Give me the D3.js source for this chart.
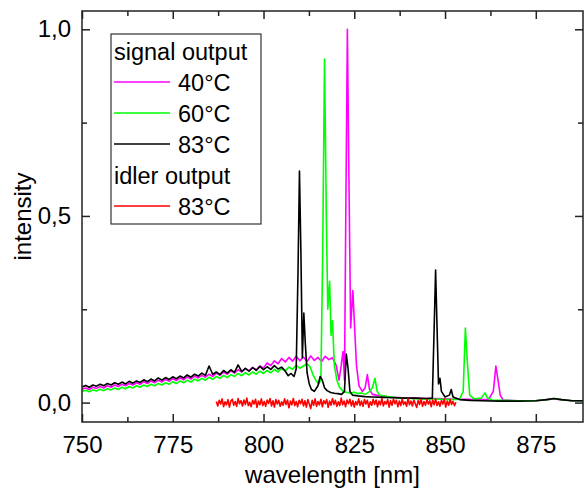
<!DOCTYPE html>
<html>
<head>
<meta charset="utf-8">
<script src="https://cdn.jsdelivr.net/npm/d3@7"></script>
<style>
  body { margin: 0; background: #fff; }
  text { font-family: "Liberation Sans", Arial, sans-serif; fill: #000; }
</style>
</head>
<body>
<div id="chart"></div>
<script>
// spectra, [wavelength nm, intensity]
var sig40 = [[750,.036],[751,.039],[752,.035],[753,.041],[754,.038],[755,.043],[756,.039],[757,.045],[758,.041],[759,.047],[760,.043],
  [761,.049],[762,.045],[763,.051],[764,.047],[765,.053],[766,.049],[767,.056],[768,.051],[769,.058],[770,.053],[771,.060],[772,.055],
  [773,.062],[774,.057],[775,.064],[776,.059],[777,.066],[778,.061],[779,.069],[780,.063],[781,.071],[782,.066],[783,.073],[784,.068],
  [785,.076],[786,.070],[787,.079],[788,.073],[789,.082],[790,.076],[791,.085],[792,.079],[793,.088],[794,.082],[795,.091],[796,.085],
  [797,.094],[798,.088],[799,.098],[800,.093],[801,.106],[802,.099],[803,.112],[804,.104],[805,.118],[806,.109],[807,.121],[808,.111],
  [809,.124],[810,.112],[811,.122],[812,.110],[813,.125],[814,.113],[815,.121],[816,.110],[817,.124],[818,.115],[819,.120],[820,.100],
  [820.8,.060],[821.4,.100],[821.9,.137],[822.3,.060],[822.7,.550],[823.1,1.0],[823.5,.620],[824,.200],[824.6,.300],[825.1,.200],
  [825.6,.100],[826.3,.045],[827.2,.030],[828,.040],[828.6,.075],[829.2,.035],[830,.022],[832,.018],[835,.015],[838,.013],[841,.012],
  [844,.011],[847,.011],[850,.010],[853,.009],[856,.009],[859,.008],[862,.009],[863.3,.030],[864,.098],[864.6,.060],[865.2,.020],
  [866,.007],[870,.005],[875,.005],[878,.008],[880,.010],[882,.008],[885,.005],[888,.005]];

var sig60 = [[750,.030],[751,.033],[752,.029],[753,.034],[754,.031],[755,.036],[756,.032],[757,.037],[758,.034],[759,.039],[760,.035],
  [761,.041],[762,.037],[763,.043],[764,.039],[765,.045],[766,.041],[767,.047],[768,.043],[769,.049],[770,.045],[771,.051],[772,.047],
  [773,.053],[774,.049],[775,.056],[776,.051],[777,.058],[778,.053],[779,.060],[780,.055],[781,.063],[782,.058],[783,.065],[784,.060],
  [785,.068],[786,.062],[787,.070],[788,.065],[789,.073],[790,.067],[791,.075],[792,.070],[793,.078],[794,.072],[795,.080],[796,.074],
  [797,.082],[798,.076],[799,.084],[800,.078],[801,.086],[802,.080],[803,.089],[804,.082],[805,.092],[806,.085],[807,.095],[808,.089],
  [809,.100],[810,.092],[811,.098],[812,.104],[812.8,.096],[813.6,.075],[814.4,.060],[815.2,.050],[815.8,.060],[816.3,.400],
  [816.8,.920],[817.3,.500],[817.7,.250],[818.2,.325],[818.6,.180],[819,.220],[819.5,.100],[820.2,.060],[821,.040],[822,.030],
  [823,.027],[824,.025],[825,.028],[826,.024],[827,.026],[828,.022],[829,.028],[830,.040],[830.7,.065],[831.3,.030],[832,.020],
  [834,.016],[837,.013],[840,.011],[843,.010],[846,.010],[849,.009],[852,.008],[854,.009],[855,.030],[855.6,.200],[856.2,.100],
  [856.8,.020],[858,.010],[860,.012],[861,.026],[861.7,.012],[863,.007],[866,.006],[870,.005],[875,.005],[878,.008],[880,.011],
  [882,.008],[885,.005],[888,.005]];

var sig83 = [[750,.042],[751,.046],[752,.041],[753,.047],[754,.044],[755,.049],[756,.045],[757,.051],[758,.047],[759,.053],[760,.049],
  [761,.055],[762,.050],[763,.057],[764,.052],[765,.058],[766,.054],[767,.061],[768,.056],[769,.063],[770,.058],[771,.066],[772,.060],
  [773,.067],[774,.062],[775,.069],[776,.064],[777,.071],[778,.066],[779,.074],[780,.068],[781,.076],[782,.071],[783,.079],[784,.073],
  [785,.098],[786,.076],[787,.082],[788,.075],[789,.086],[790,.079],[791,.088],[792,.081],[793,.101],[794,.083],[795,.092],[796,.084],
  [797,.094],[798,.086],[799,.097],[800,.088],[801,.096],[802,.089],[803,.099],[804,.090],[805,.095],[806,.084],[806.8,.072],
  [807.6,.078],[808.4,.070],[809,.090],[809.5,.350],[809.9,.620],[810.3,.400],[810.7,.120],[811.1,.240],[811.5,.160],[812,.080],
  [812.6,.050],[813.2,.035],[814,.030],[815,.045],[815.6,.070],[816.2,.060],[816.8,.040],[817.5,.032],[818.5,.027],[819.5,.025],
  [820.5,.024],[821.5,.022],[822.3,.030],[822.8,.130],[823.3,.090],[823.8,.030],[824.5,.020],[826,.018],[828,.016],[830,.015],
  [833,.014],[836,.013],[839,.012],[842,.012],[845,.011],[846.5,.012],[847,.200],[847.4,.355],[847.8,.200],[848.2,.050],
  [848.6,.065],[849,.030],[850,.015],[851.2,.020],[851.7,.035],[852.2,.015],[854,.008],[857,.006],[860,.005],[865,.004],
  [870,.004],[875,.005],[878,.008],[880,.011],[882,.008],[885,.005],[888,.005]];

var idler83 = [[787,.003],[787.4,-.009],[787.8,.006],[788.2,-.004],[788.6,.010],[789,-.011],[789.4,.002],[789.8,-.006],[790.2,.008],
  [790.6,-.012],[791,.004],[791.4,.009],[791.8,-.007],[792.2,.003],[792.6,-.010],[793,.011],[793.4,-.003],[793.8,.005],[794.2,-.009],
  [794.6,.007],[795,-.005],[795.4,.012],[795.8,-.008],[796.2,.001],[796.6,-.011],[797,.006],[797.4,-.004],[797.8,.009],[798.2,-.013],
  [798.6,.004],[799,-.006],[799.4,.010],[799.8,-.008],[800.2,.003],[800.6,-.010],[801,.007],[801.4,-.002],[801.8,.011],[802.2,-.009],
  [802.6,.005],[803,-.012],[803.4,.008],[803.8,-.004],[804.2,.006],[804.6,-.010],[805,.002],[805.4,-.007],[805.8,.010],[806.2,-.005],
  [806.6,.007],[807,-.014],[807.4,.004],[807.8,-.006],[808.2,.011],[808.6,-.008],[809,.003],[809.4,-.011],[809.8,.006],[810.2,-.003],
  [810.6,.009],[811,-.009],[811.4,.005],[811.8,-.012],[812.2,.008],[812.6,-.004],[813,-.016],[813.4,.006],[813.8,-.007],[814.2,.010],
  [814.6,-.010],[815,.003],[815.4,-.006],[815.8,.009],[816.2,-.011],[816.6,.005],[817,-.003],[817.4,.008],[817.8,-.013],[818.2,.004],
  [818.6,-.007],[819,.011],[819.4,-.005],[819.8,.006],[820.2,-.010],[820.6,.002],[821,-.008],[821.4,.012],[821.8,-.006],[822.2,.004],
  [822.6,-.011],[823,.007],[823.4,-.003],[823.8,.009],[824.2,-.009],[824.6,.005],[825,-.012],[825.4,.003],[825.8,-.006],[826.2,.010],
  [826.6,-.008],[827,.004],[827.4,-.010],[827.8,.008],[828.2,-.004],[828.6,.006],[829,-.013],[829.4,.002],[829.8,-.007],[830.2,.009],
  [830.6,-.005],[831,.007],[831.4,-.011],[831.8,.004],[832.2,-.006],[832.6,.011],[833,-.009],[833.4,.003],[833.8,-.004],[834.2,.008],
  [834.6,-.012],[835,.005],[835.4,-.007],[835.8,.010],[836.2,-.003],[836.6,.006],[837,-.011],[837.4,.004],[837.8,-.008],[838.2,.009],
  [838.6,-.005],[839,.002],[839.4,-.010],[839.8,.011],[840.2,-.006],[840.6,.004],[841,-.009],[841.4,.007],[841.8,-.003],[842.2,-.013],
  [842.6,.006],[843,-.005],[843.4,.009],[843.8,-.010],[844.2,.003],[844.6,-.007],[845,.008],[845.4,-.004],[845.8,.005],[846.2,-.011],
  [846.6,.007],[847,-.006],[847.4,.010],[847.8,-.008],[848.2,.002],[848.6,-.010],[849,.006],[849.4,-.004],[849.8,.009],[850.2,-.012],
  [850.6,.004],[851,-.007],[851.4,.008],[851.8,-.005],[852.2,.003],[852.6,-.008],[853,.001]];

var xTicks = [750, 775, 800, 825, 850, 875];
var xMinor = [762.5, 787.5, 812.5, 837.5, 862.5];
var yTicks = [0, 0.5, 1.0];
var yMinor = [0.25, 0.75];
var yTickLabels = ["0,0", "0,5", "1,0"];

var series = [
  {name: "40°C", data: sig40, color: "#ff00ff"},
  {name: "60°C", data: sig60, color: "#00ff00"},
  {name: "83°C", data: sig83, color: "#000000"},
  {name: "83°C", data: idler83, color: "#ff0000"}
];

var W = 585, H = 492;
var margin = {top: 11, right: 2, bottom: 70, left: 82};
var width = W - margin.left - margin.right,
    height = H - margin.top - margin.bottom;

var x = d3.scaleLinear().domain([750, 888]).range([0, width]);
var y = d3.scaleLinear().domain([-0.052, 1.049]).range([height, 0]);

var svg = d3.select("#chart").append("svg")
    .attr("width", W).attr("height", H)
  .append("g")
    .attr("transform", "translate(" + margin.left + "," + margin.top + ")");

svg.append("clipPath").attr("id", "clip")
  .append("rect").attr("width", width).attr("height", height);

var line = d3.line()
  .x(function(d) { return x(d[0]); })
  .y(function(d) { return y(d[1]); });

series.forEach(function(s) {
  svg.append("path")
    .datum(s.data)
    .attr("clip-path", "url(#clip)")
    .attr("fill", "none")
    .attr("stroke", s.color)
    .attr("stroke-width", 1.6)
    .attr("stroke-linejoin", "round")
    .attr("d", line);
});

// axes, ticks pointing inward on all four sides
function axisStyle(g) {
  g.select(".domain").remove();
  g.selectAll(".tick line").attr("stroke", "#222").attr("stroke-width", 1.5);
  g.selectAll("text").style("font-size", "24px");
}

svg.append("g").attr("transform", "translate(0," + height + ")")
  .call(d3.axisBottom(x).tickValues(xTicks).tickSizeInner(-8).tickSizeOuter(0).tickPadding(14).tickFormat(d3.format("d")))
  .call(axisStyle);
svg.append("g").attr("transform", "translate(0," + height + ")")
  .call(d3.axisBottom(x).tickValues(xMinor).tickSize(-5).tickFormat(""))
  .call(axisStyle);
svg.append("g")
  .call(d3.axisTop(x).tickValues(xTicks).tickSize(-8).tickFormat(""))
  .call(axisStyle);
svg.append("g")
  .call(d3.axisTop(x).tickValues(xMinor).tickSize(-5).tickFormat(""))
  .call(axisStyle);

svg.append("g")
  .call(d3.axisLeft(y).tickValues(yTicks).tickSize(-8).tickPadding(11)
    .tickFormat(function(d, i) { return yTickLabels[i]; }))
  .call(axisStyle);
svg.append("g")
  .call(d3.axisLeft(y).tickValues(yMinor).tickSize(-5).tickFormat(""))
  .call(axisStyle);
svg.append("g").attr("transform", "translate(" + width + ",0)")
  .call(d3.axisRight(y).tickValues(yTicks).tickSize(-8).tickFormat(""))
  .call(axisStyle);
svg.append("g").attr("transform", "translate(" + width + ",0)")
  .call(d3.axisRight(y).tickValues(yMinor).tickSize(-5).tickFormat(""))
  .call(axisStyle);

svg.append("rect")
  .attr("width", width).attr("height", height)
  .attr("fill", "none").attr("stroke", "#222").attr("stroke-width", 1.5);

svg.append("text")
  .attr("x", width / 2).attr("y", height + 61)
  .attr("text-anchor", "middle")
  .style("font-size", "24px")
  .text("wavelength [nm]");

svg.append("text")
  .attr("transform", "translate(-51," + (height / 2) + ") rotate(-90)")
  .attr("text-anchor", "middle")
  .style("font-size", "24px")
  .text("intensity");

// legend
var leg = svg.append("g").attr("transform", "translate(29,23)");
leg.append("rect")
  .attr("width", 150).attr("height", 190)
  .attr("fill", "#fff").attr("stroke", "#333").attr("stroke-width", 1.2);

var rows = [
  {label: "signal output"},
  {label: "40°C", s: 0},
  {label: "60°C", s: 1},
  {label: "83°C", s: 2},
  {label: "idler output"},
  {label: "83°C", s: 3}
];
rows.forEach(function(r, i) {
  var cy = 17 + i * 31;
  if (r.s === undefined) {
    leg.append("text").attr("x", 3).attr("y", cy + 9)
      .style("font-size", "23.5px").text(r.label);
  } else {
    leg.append("line")
      .attr("x1", 3).attr("x2", 59).attr("y1", cy).attr("y2", cy)
      .attr("stroke", series[r.s].color).attr("stroke-width", 1.4);
    leg.append("text").attr("x", 67).attr("y", cy + 9)
      .style("font-size", "23.5px").text(r.label);
  }
});
</script>
</body>
</html>
